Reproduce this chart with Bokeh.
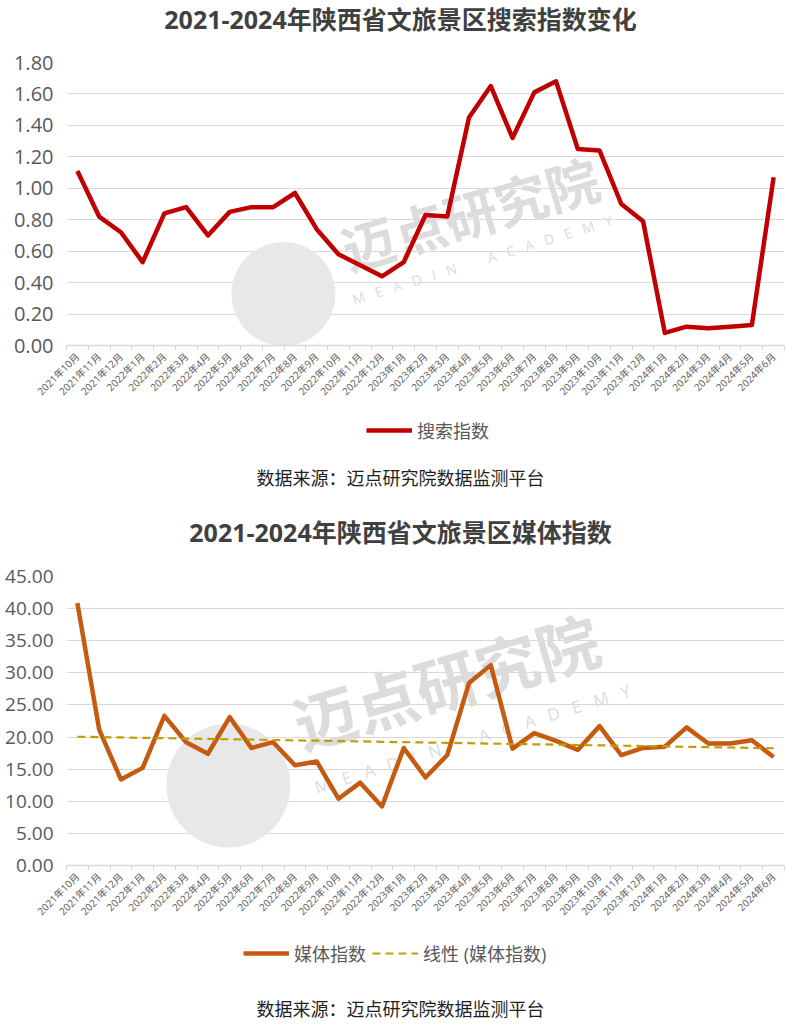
import math
import numpy as np
from bokeh.plotting import figure
from bokeh.models import (Range1d, FixedTicker, Legend, LegendItem, Label,
                          NumeralTickFormatter)
from bokeh.layouts import column
from bokeh.embed import file_html
from bokeh.resources import INLINE

months = ["2021年10月", "2021年11月", "2021年12月",
          "2022年1月", "2022年2月", "2022年3月", "2022年4月", "2022年5月", "2022年6月",
          "2022年7月", "2022年8月", "2022年9月", "2022年10月", "2022年11月", "2022年12月",
          "2023年1月", "2023年2月", "2023年3月", "2023年4月", "2023年5月", "2023年6月",
          "2023年7月", "2023年8月", "2023年9月", "2023年10月", "2023年11月", "2023年12月",
          "2024年1月", "2024年2月", "2024年3月", "2024年4月", "2024年5月", "2024年6月"]

search_index = [1.11, 0.82, 0.72, 0.53, 0.84, 0.88, 0.70, 0.85, 0.88, 0.88, 0.97,
                0.74, 0.58, 0.51, 0.44, 0.53, 0.83, 0.82, 1.45, 1.65, 1.32, 1.61,
                1.68, 1.25, 1.24, 0.90, 0.79, 0.08, 0.12, 0.11, 0.12, 0.13, 1.07]

media_index = [40.85, 21.2, 13.4, 15.2, 23.3, 19.2, 17.4, 23.1, 18.3, 19.2, 15.6,
               16.2, 10.4, 12.9, 9.2, 18.3, 13.7, 17.2, 28.4, 31.2, 18.2, 20.6,
               19.4, 18.0, 21.7, 17.2, 18.3, 18.5, 21.5, 19.0, 19.0, 19.5, 16.9]

search_ticks = [0.0, 0.2, 0.4, 0.6, 0.8, 1.0, 1.2, 1.4, 1.6, 1.8]
media_ticks = [0, 5, 10, 15, 20, 25, 30, 35, 40, 45]

title_search = "2021-2024年陕西省文旅景区搜索指数变化"
title_media = "2021-2024年陕西省文旅景区媒体指数"
source_text = "数据来源：迈点研究院数据监测平台"
wm_cn = "迈点研究院"
wm_en = "M E A D I N   A C A D E M Y"

FONT = "Open Sans, Noto Sans CJK SC"
CJK = "Noto Sans CJK SC"
GRAY = "#595959"
W = 800
LB = 66   # frame left border
RB = 16   # frame right border

x_idx = list(range(len(months)))


def base_fig(height, y_max, ticks, bottom_border, ylab_size):
    p = figure(width=W, height=height, x_range=Range1d(-0.5, len(months) - 0.5),
               y_range=Range1d(0, y_max), output_backend="svg", toolbar_location=None,
               min_border_left=LB, min_border_right=RB, min_border_top=12,
               min_border_bottom=bottom_border, outline_line_color=None)
    p.xgrid.visible = False
    p.ygrid.grid_line_color = "#d9d9d9"
    p.ygrid.grid_line_width = 1

    p.yaxis.ticker = FixedTicker(ticks=ticks)
    p.yaxis.formatter = NumeralTickFormatter(format="0.00")
    p.yaxis.axis_line_color = None
    p.yaxis.major_tick_line_color = None
    p.yaxis.minor_tick_line_color = None
    p.yaxis.major_tick_out = 0
    p.yaxis.minor_tick_out = 0
    p.yaxis.major_label_text_font = FONT
    p.yaxis.major_label_text_font_size = ylab_size
    p.yaxis.major_label_text_color = GRAY
    p.yaxis.major_label_standoff = 13

    p.xaxis.ticker = FixedTicker(ticks=x_idx,
                                 minor_ticks=[i - 0.5 for i in range(len(months) + 1)])
    p.xaxis.major_label_overrides = {i: m for i, m in enumerate(months)}
    p.xaxis.major_label_orientation = math.pi / 4
    p.xaxis.major_label_text_font = FONT
    p.xaxis.major_label_text_font_size = "10px"
    p.xaxis.major_label_text_color = GRAY
    p.xaxis.major_label_standoff = 4
    p.xaxis.axis_line_color = "#d9d9d9"
    p.xaxis.axis_line_width = 1.5
    p.xaxis.major_tick_line_color = None
    p.xaxis.major_tick_out = 0
    p.xaxis.minor_tick_line_color = "#d9d9d9"
    p.xaxis.minor_tick_in = 0
    p.xaxis.minor_tick_out = 5
    return p


def blank_fig(height):
    # frames in a column are aligned: map data x to page x directly
    f = figure(width=W, height=height, x_range=Range1d(LB, W - RB),
               y_range=Range1d(0, height), output_backend="svg",
               toolbar_location=None, x_axis_type=None, y_axis_type=None,
               min_border_left=LB, min_border_right=RB, min_border_top=0,
               min_border_bottom=0, outline_line_color=None)
    f.xgrid.visible = False
    f.ygrid.visible = False
    return f


def header(height, text, center_from_top):
    h = blank_fig(height)
    h.add_layout(Label(x=W / 2, y=height - center_from_top, text=text,
                       text_align="center", text_baseline="middle", text_font=FONT,
                       text_font_size="25px", text_font_style="bold",
                       text_color="#404040"))
    return h


def watermark(p, cx, cy, r, tx, ty, size, ex, ey, esize):
    p.scatter(x=[cx], y=[cy], size=2 * r, color="#e8e8e8", line_color=None)
    p.add_layout(Label(x=tx, y=ty, text=wm_cn, angle=0.285, text_font=CJK,
                       text_font_size=f"{size}px", text_color="#dcdcdc",
                       text_font_style="bold", level="underlay"))
    p.add_layout(Label(x=ex, y=ey, text=wm_en.replace(" ", "\u00a0\u00a0\u00a0"),
                       angle=0.30, text_font=FONT, text_font_size=f"{esize}px",
                       text_color="#dcdcdc", level="underlay"))


def footer(height, series, legend_x, legend_center, source_y):
    f = blank_fig(height)
    nan = [float("nan")]
    items = []
    for label, color, width, dash in series:
        r = f.line(nan, nan, line_color=color, line_width=width, line_dash=dash)
        items.append(LegendItem(label=label, renderers=[r]))
    leg = Legend(items=items, location=(legend_x - LB, height - legend_center - 10),
                 orientation="horizontal",
                 label_text_font=FONT, label_text_font_size="18px",
                 label_text_color=GRAY, glyph_width=46, glyph_height=20,
                 label_height=20, label_standoff=5, spacing=6, padding=0, margin=0,
                 border_line_color=None, background_fill_alpha=0)
    f.add_layout(leg, "center")
    f.add_layout(Label(x=W / 2, y=height - source_y, text=source_text,
                       text_align="center", text_baseline="middle", text_font=CJK,
                       text_font_size="18px", text_color="#1f1f1f"))
    return f


# ---------- top chart ----------
h1 = header(50, title_search, 18)
p1 = base_fig(355, 1.8, search_ticks, 58, "20px")
watermark(p1, 9.47, 0.328, 52, 12.69, 0.379, 53, 12.78, 0.234, 14)
p1.line(x_idx, search_index, line_color="#c00000", line_width=4.5, line_join="round")
f1 = footer(103, [("搜索指数", "#c00000", 4.5, "solid")], 366, 28, 71)

# ---------- bottom chart ----------
h2 = header(56, title_media, 23)
p2 = base_fig(361, 45, media_ticks, 60, "19px")
watermark(p2, 6.94, 12.46, 62, 10.58, 15.26, 63, 11.08, 10.43, 17)
slope, intercept = np.polyfit(x_idx, media_index, 1)
trend = [intercept + slope * i for i in x_idx]
p2.line(x_idx, media_index, line_color="#c55a11", line_width=4.5, line_join="round")
p2.line(x_idx, trend, line_color="#bf9f00", line_width=2.2, line_dash="8 5")
f2 = footer(100, [("媒体指数", "#c55a11", 4.5, "solid"),
                  ("线性 (媒体指数)", "#bf9f00", 2.2, "8 5")], 243, 31, 82)

layout = column(h1, p1, f1, h2, p2, f2, spacing=0)
open("out.html", "w").write(file_html(layout, INLINE))
